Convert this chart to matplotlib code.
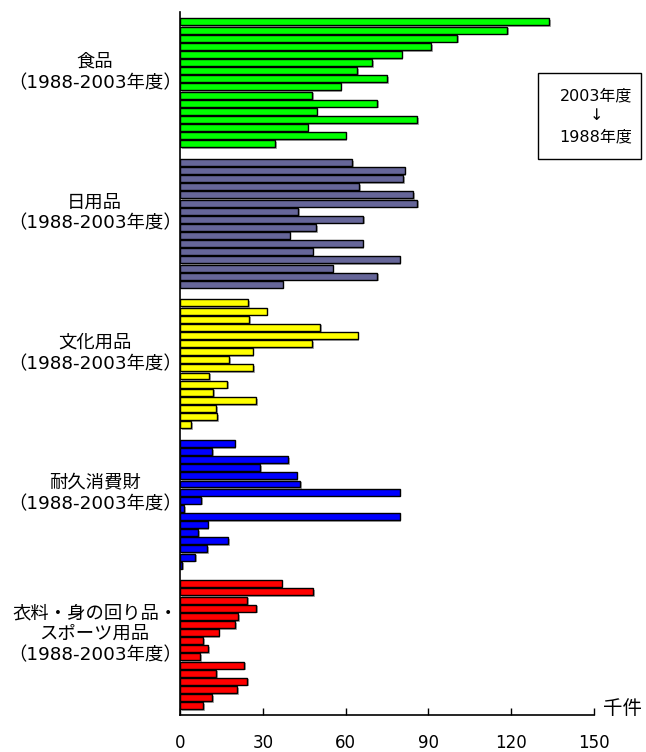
import matplotlib
matplotlib.use("Agg")
import matplotlib.pyplot as plt
import matplotlib.patheffects as pe
from matplotlib.patches import Rectangle

plt.rcParams['font.family'] = ['DejaVu Sans', 'Noto Sans CJK JP']

# Values (thousand cases), listed from 2003 (top) down to 1988 (bottom)
food = [133.7, 118.5, 100.5, 90.9, 80.3, 69.6, 64.1, 75.1, 58.2, 47.9, 71.5, 49.5, 85.9, 46.2, 60.0, 34.5]
daily = [62.4, 81.4, 80.8, 65.0, 84.5, 86.0, 42.9, 66.3, 49.4, 39.7, 66.2, 48.1, 79.6, 55.3, 71.5, 37.2]
culture = [24.6, 31.4, 25.1, 50.7, 64.4, 47.8, 26.3, 17.8, 26.4, 10.5, 17.0, 12.1, 27.5, 13.0, 13.5, 4.0]
durable = [19.8, 11.7, 39.3, 29.0, 42.3, 43.6, 79.6, 7.7, 1.5, 79.6, 10.0, 6.6, 17.5, 9.9, 5.6, 0.8]
clothing = [36.8, 48.3, 24.4, 27.7, 21.1, 20.1, 14.0, 8.3, 10.1, 7.4, 23.2, 13.0, 24.4, 20.8, 11.6, 8.4]

series = [food, daily, culture, durable, clothing]
colors = ['#00FF00', '#666699', '#FFFF00', '#0000FF', '#FF0000']
group_labels = ['食品\n（1988-2003年度）',
                '日用品\n（1988-2003年度）',
                '文化用品\n（1988-2003年度）',
                '耐久消費財\n（1988-2003年度）',
                '衣料・身の回り品・\nスポーツ用品\n（1988-2003年度）']
xticks = [0, 30, 60, 90, 120, 150]

W, H = 646, 752
fig = plt.figure(figsize=(W / 100, H / 100), dpi=100)
ax = fig.add_axes([180 / W, 37 / H, 414 / W, (715 - 12) / H])

pitch = 17.3
shadow = [pe.SimplePatchShadow(offset=(1.2, -1.2), shadow_rgbFace='#888888', alpha=0.7), pe.Normal()]
for g, (vals, col) in enumerate(zip(series, colors)):
    pos = [g * pitch + i for i in range(len(vals))]
    bars = ax.barh(pos, vals, height=0.86, color=col, edgecolor='black', linewidth=1.0)
    for b in bars:
        b.set_path_effects(shadow)
    center = g * pitch + 7.5 - 1.3
    ax.text(-0.206, center, group_labels[g], transform=ax.get_yaxis_transform(),
            ha='center', va='center', fontsize=13.2, linespacing=1.22)

ax.set_xlim(0, 150)
ax.set_ylim(85.35, -1.23)
ax.set_xticks(xticks)
ax.set_xticklabels([str(t) for t in xticks], fontsize=12)
ax.tick_params(axis='x', direction='in', length=5, width=1, pad=14)
ax.set_yticks([])
for s in ['top', 'right']:
    ax.spines[s].set_visible(False)
for s in ['left', 'bottom']:
    ax.spines[s].set_linewidth(1.2)

fig.text(623 / W, 1 - 708 / H, '千件', ha='center', va='center', fontsize=14)

# legend box
fig.patches.append(Rectangle((538 / W, 1 - 159 / H), 103 / W, 86 / H, transform=fig.transFigure,
                             facecolor='white', edgecolor='black', linewidth=1.0))
fig.text(596 / W, 1 - 96 / H, '2003年度', ha='center', va='center', fontsize=11.5)
fig.text(596 / W, 1 - 116 / H, '↓', ha='center', va='center', fontsize=11.5)
fig.text(596 / W, 1 - 137 / H, '1988年度', ha='center', va='center', fontsize=11.5)

fig.savefig('out.png', dpi=100)
